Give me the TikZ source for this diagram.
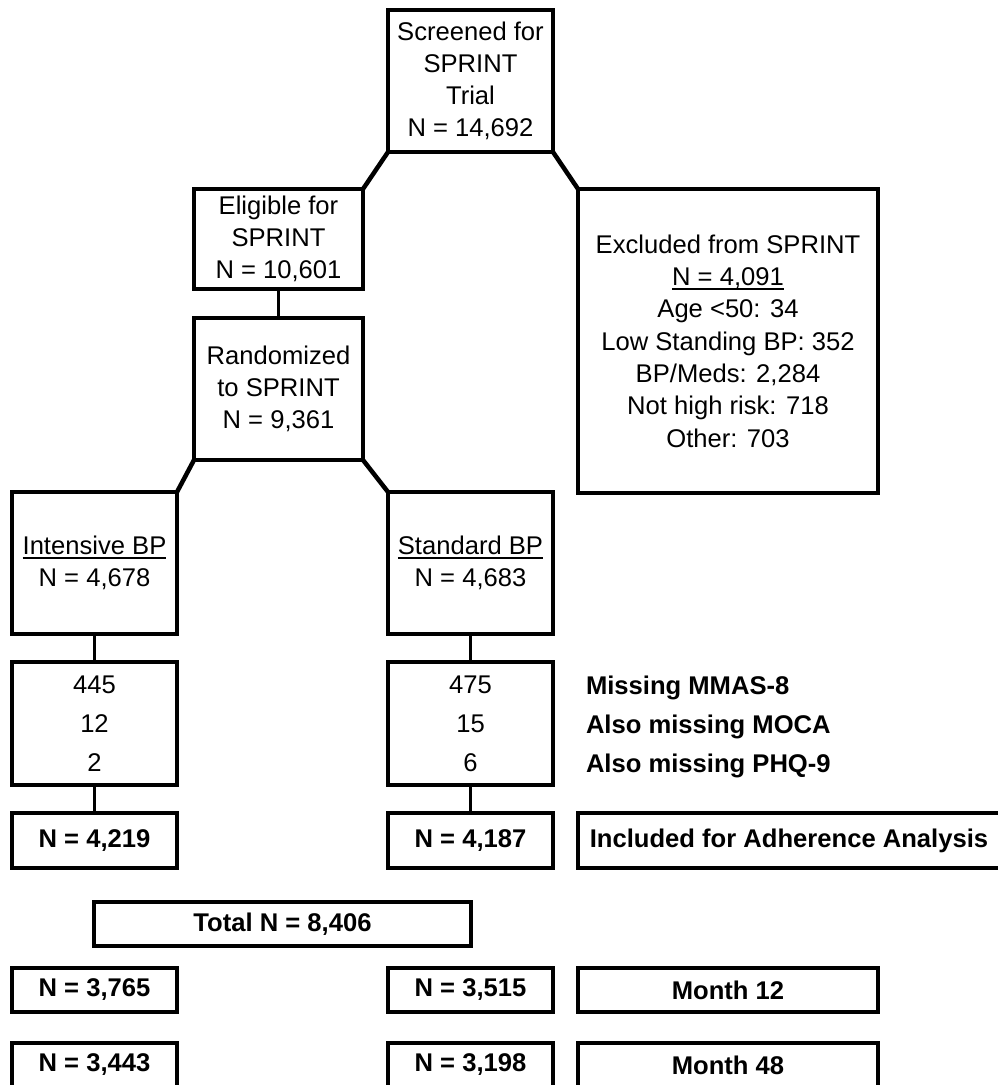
\documentclass[tikz,border=0pt]{standalone}
\usepackage{fontspec}
\setmainfont{Liberation Sans}
\newcommand{\fnorm}{\fontsize{25.6}{31.8}\selectfont}
\newcommand{\fexcl}{\fontsize{25.6}{32.3}\selectfont}
\newcommand{\fmiss}{\fontsize{25.6}{39}\selectfont}
\newcommand{\fbold}{\fontsize{25.6}{32}\selectfont\bfseries}
\newsavebox{\myulbox}
\newcommand{\myul}[1]{\sbox{\myulbox}{#1}\rlap{\rule[-4.2pt]{\wd\myulbox}{1.7pt}}\usebox{\myulbox}}
\begin{document}
\begin{tikzpicture}[x=1pt,y=-1pt,
  box/.style={draw, line width=3.3pt, inner sep=0pt, outer sep=0pt, align=center, font=\fnorm},
  bbox/.style={draw, line width=3.3pt, inner sep=0pt, outer sep=0pt, align=center, font=\fbold},
  lbl/.style={inner sep=0pt, outer sep=0pt, font=\fbold},
  diag/.style={line width=4.5pt},
  vert/.style={line width=3.3pt}]
\useasboundingbox (0,0) rectangle (998,1085);
\clip (0,0) rectangle (998,1085);

% top part
\node[box, minimum width=165pt, minimum height=142pt] (scr) at (470.5,81)
  {Screened for\\SPRINT\\Trial\\N = 14,692};
\node[box, minimum width=169pt, minimum height=100pt] (elig) at (278.5,239)
  {Eligible for\\SPRINT\\N = 10,601};
\node[box, minimum width=169pt, minimum height=142pt] (rand) at (278.5,389)
  {Randomized\\to SPRINT\\N = 9,361};
\node[box, font=\fexcl, minimum width=300pt, minimum height=304pt] (excl) at (728,341)
  {Excluded from SPRINT\\\myul{N = 4,091}\\Age <50: 34\\Low Standing BP: 352\\BP/Meds: 2,284\\Not high risk: 718\\Other: 703};

% arms
\node[box, minimum width=165pt, minimum height=142pt] (ints) at (94.5,563)
  {\myul{Intensive BP}\\N = 4,678};
\node[box, minimum width=165pt, minimum height=142pt] (stnd) at (470.5,563)
  {\myul{Standard BP}\\N = 4,683};

% missing
\node[box, font=\fmiss, minimum width=165pt, minimum height=123pt] (miss1) at (94.5,723.5)
  {445\\12\\2};
\node[box, font=\fmiss, minimum width=165pt, minimum height=123pt] (miss2) at (470.5,723.5)
  {475\\15\\6};
\node[lbl, anchor=base west] (l1) at (586,694) {Missing MMAS-8};
\node[lbl, anchor=base west] (l2) at (586,733) {Also missing MOCA};
\node[lbl, anchor=base west] (l3) at (586,772) {Also missing PHQ-9};

% included
\node[bbox, minimum width=165pt, minimum height=55pt] (inc1) at (94.5,840.5) {N = 4,219};
\node[bbox, minimum width=165pt, minimum height=55pt] (inc2) at (470.5,840.5) {N = 4,187};
\node[bbox, minimum width=422pt, minimum height=55pt] (inc3) at (789,840.5) {Included for Adherence Analysis};

% total
\node[bbox, minimum width=377pt, minimum height=44pt] (tot) at (282.5,924) {Total N = 8,406};

% month 12
\node[bbox, minimum width=165pt, minimum height=44pt] (m12a) at (94.5,990) {N = 3,765};
\node[bbox, minimum width=165pt, minimum height=44pt] (m12b) at (470.5,990) {N = 3,515};
\node[bbox, minimum width=300pt, minimum height=44pt] (m12c) at (728,990) {Month 12};

% month 48
\node[bbox, minimum width=165pt, minimum height=44pt] (m48a) at (94.5,1065) {N = 3,443};
\node[bbox, minimum width=165pt, minimum height=44pt] (m48b) at (470.5,1065) {N = 3,198};
\node[bbox, minimum width=300pt, minimum height=44pt] (m48c) at (728,1065) {Month 48};

% connectors
\draw[diag] (scr.south west) -- (elig.north east);
\draw[diag] (scr.south east) -- (excl.north west);
\draw[vert] (elig.south) -- (rand.north);
\draw[diag] (rand.south west) -- (ints.north east);
\draw[diag] (rand.south east) -- (stnd.north west);
\draw[vert] (ints.south) -- (miss1.north);
\draw[vert] (stnd.south) -- (miss2.north);
\draw[vert] (miss1.south) -- (inc1.north);
\draw[vert] (miss2.south) -- (inc2.north);
\end{tikzpicture}
\end{document}
